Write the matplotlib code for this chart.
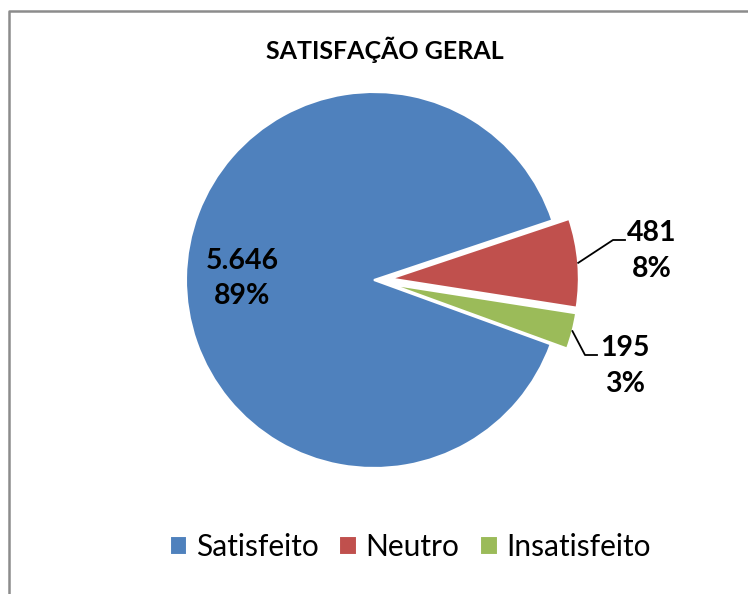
import matplotlib.pyplot as plt
import numpy as np

plt.rcParams['font.family'] = ['Lato', 'DejaVu Sans']

# data
categories = ['Satisfeito', 'Neutro', 'Insatisfeito']
values = [5646, 481, 195]
value_labels = ['5.646', '481', '195']
colors = ['#4F81BD', '#C0504D', '#9BBB59']
explode = [0, 0.09, 0.09]

W, H = 748, 594
fig = plt.figure(figsize=(W / 100, H / 100), dpi=100)
ax = fig.add_axes([0, 0, 1, 1])

cx, cy, r = 374, H - 280, 188
# pie explode is in data units, scale by radius
wedges, _ = ax.pie(values, colors=colors, explode=[e * r for e in explode],
                   startangle=340, counterclock=False, center=(cx, cy), radius=r,
                   wedgeprops=dict(edgecolor='white', linewidth=1.5))
ax.set_xlim(0, W)
ax.set_ylim(0, H)
ax.set_aspect('equal')
ax.axis('off')

total = sum(values)
pcts = ['%d%%' % round(100 * v / total) for v in values]

# inside label for the big slice
w = wedges[0]
mid = np.deg2rad((w.theta1 + w.theta2) / 2)
ax.text(cx + 0.70 * r * np.cos(mid), cy + 0.70 * r * np.sin(mid),
        value_labels[0] + '\n' + pcts[0], ha='center', va='center',
        fontsize=20.5, fontweight='bold', linespacing=1.45)

# outside labels with leader lines
label_pos = {1: (652, H - 251), 2: (625, H - 366)}
for i, (lx, ly) in label_pos.items():
    w = wedges[i]
    mid = np.deg2rad((w.theta1 + w.theta2) / 2)
    off = explode[i] * r
    sx = cx + (off + r) * np.cos(mid)
    sy = cy + (off + r) * np.sin(mid)
    ex = lx - 27 if i == 1 else lx - 28
    ey = ly + 11
    ax.plot([sx, ex - 12, ex], [sy, ey, ey], color='black', lw=1.3)
    ax.text(lx, ly, value_labels[i] + '\n' + pcts[i], ha='center', va='center',
            fontsize=20.5, fontweight='bold', linespacing=1.45)

# title
ax.text(385, H - 50, 'SATISFAÇÃO GERAL', ha='center', va='center',
        fontsize=18, fontweight='bold')

# chart border (left and top)
ax.plot([9, 9, W], [0, H - 11, H - 11], color='#8c8c8c', lw=1.8, clip_on=False)

ax.legend(wedges, categories, loc='center', bbox_to_anchor=(410 / W, 47 / H),
          ncol=3, frameon=False, fontsize=21.5, handlelength=0.6, handleheight=0.6,
          handletextpad=0.27, columnspacing=0.7)

fig.savefig('out.png', dpi=100)
